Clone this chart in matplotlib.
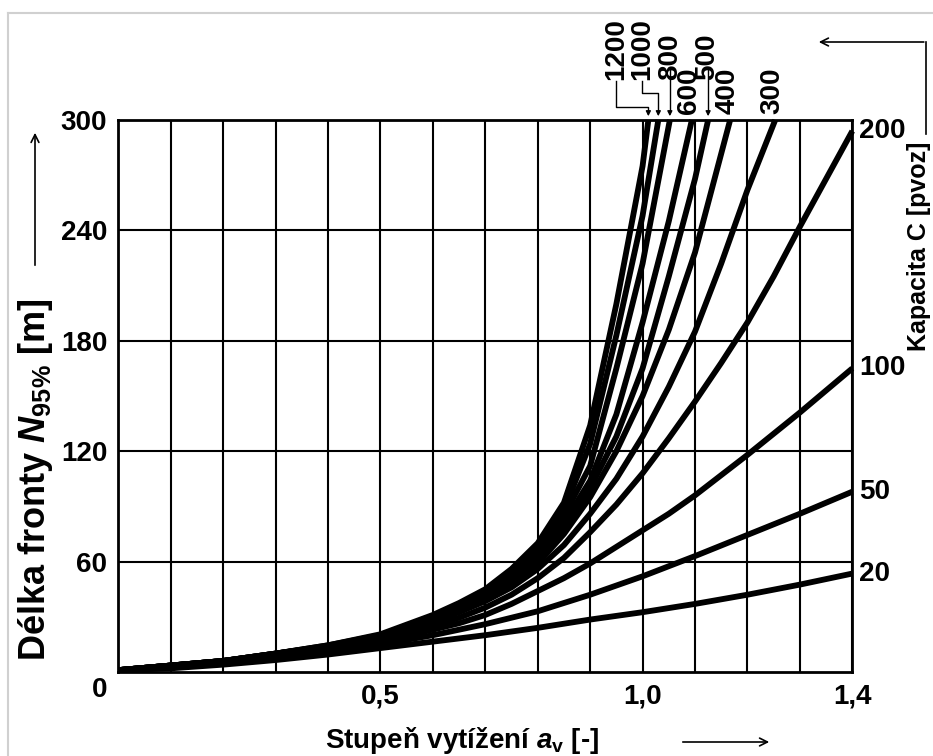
import numpy as np
import matplotlib
matplotlib.use("Agg")
import matplotlib.pyplot as plt
from matplotlib.lines import Line2D
from matplotlib.patches import FancyArrowPatch

plt.rcParams['font.family'] = ['Liberation Sans', 'DejaVu Sans']
plt.rcParams['font.weight'] = 'bold'
plt.rcParams['mathtext.fontset'] = 'custom'
plt.rcParams['mathtext.it'] = 'Liberation Sans:italic:bold'
plt.rcParams['mathtext.rm'] = 'Liberation Sans:bold'

# --- data ------------------------------------------------------------------
a_c20 = [0, 0.1, 0.2, 0.3, 0.4, 0.5, 0.6, 0.7, 0.8, 0.9, 1.0, 1.1, 1.2, 1.3, 1.4]
n_c20 = [1, 2, 4, 6.5, 9.5, 13, 16.5, 20, 24, 28.5, 32.5, 37, 42, 47.5, 53.5]
a_c50 = [0, 0.1, 0.2, 0.3, 0.4, 0.5, 0.6, 0.7, 0.8, 0.9, 1.0, 1.1, 1.2, 1.3, 1.4]
n_c50 = [1, 2.5, 4.5, 7, 10.5, 15, 20, 26, 33, 42, 52, 63, 74.5, 86, 98]
a_c100 = [0, 0.1, 0.2, 0.3, 0.4, 0.5, 0.6, 0.65, 0.7, 0.75, 0.8, 0.85, 0.9, 0.95,
          1.0, 1.05, 1.1, 1.15, 1.2, 1.25, 1.3, 1.35, 1.4]
n_c100 = [1, 3, 5, 8, 11.5, 16.5, 23, 26.5, 31, 37, 44, 51, 59, 68,
          77, 86, 96, 107, 118, 129.5, 141, 153, 165]
a_c200 = [0, 0.1, 0.2, 0.3, 0.4, 0.5, 0.6, 0.65, 0.7, 0.75, 0.8, 0.85, 0.9, 0.95,
          1.0, 1.05, 1.1, 1.15, 1.2, 1.25, 1.3, 1.35, 1.4]
n_c200 = [1, 3.5, 5.5, 8.5, 12.5, 18, 25, 29.5, 35, 42, 51, 62, 76, 91,
          108, 127, 147, 168, 190, 215, 242, 268, 294]
a_c300 = [0, 0.1, 0.2, 0.3, 0.4, 0.5, 0.6, 0.65, 0.7, 0.75, 0.8, 0.85, 0.9, 0.95,
          1.0, 1.05, 1.1, 1.15, 1.2, 1.253]
n_c300 = [1, 3.5, 6, 9.5, 13, 18.5, 27, 32.5, 38.5, 46, 56, 69, 86, 105,
          128, 155, 185, 222, 262, 300]
a_c400 = [0, 0.1, 0.2, 0.3, 0.4, 0.5, 0.6, 0.65, 0.7, 0.75, 0.8, 0.85, 0.9, 0.95,
          1.0, 1.05, 1.1, 1.167]
n_c400 = [1, 3.5, 6, 9.5, 13.5, 19, 28, 33.5, 40, 48.5, 59, 75, 95, 120,
          150, 186, 228, 300]
a_c500 = [0, 0.1, 0.2, 0.3, 0.4, 0.5, 0.6, 0.65, 0.7, 0.75, 0.8, 0.85, 0.9, 0.95,
          1.0, 1.05, 1.1, 1.125]
n_c500 = [1, 3.5, 6, 10, 14, 19.5, 28.5, 34, 41, 50, 61, 78, 100, 128,
          165, 215, 268, 300]
a_c600 = [0, 0.1, 0.2, 0.3, 0.4, 0.5, 0.6, 0.65, 0.7, 0.75, 0.8, 0.85, 0.9, 0.95,
          1.0, 1.05, 1.094]
n_c600 = [1, 3.5, 6, 10, 14, 19.5, 29, 35, 42, 51.5, 63, 81, 104, 140,
          190, 245, 300]
a_c800 = [0, 0.1, 0.2, 0.3, 0.4, 0.5, 0.6, 0.65, 0.7, 0.75, 0.8, 0.85, 0.9, 0.95,
          1.0, 1.052]
n_c800 = [1, 3.5, 6, 10, 14, 20, 30, 36, 43, 53, 65, 85, 112, 165, 222, 300]
a_c1000 = [0, 0.1, 0.2, 0.3, 0.4, 0.5, 0.6, 0.65, 0.7, 0.75, 0.8, 0.85, 0.9, 0.95,
           1.0, 1.03]
n_c1000 = [1, 3.5, 6, 10, 14.5, 20, 30.5, 36.5, 44, 54.5, 67, 88, 124, 183, 248, 300]
a_c1200 = [0, 0.1, 0.2, 0.3, 0.4, 0.5, 0.6, 0.65, 0.7, 0.75, 0.8, 0.85, 0.9, 0.95,
           1.0, 1.011]
n_c1200 = [1, 3.5, 6, 10, 14.5, 20.5, 31, 37.5, 45, 56, 70, 92, 134, 200, 275, 300]

right_labels = ['200', '100', '50', '20']
top_near = ['600', '400', '300']
top_far = ['1200', '1000', '800', '500']

W, H = 933, 756
NUM = 20  # font size of numbers
fig = plt.figure(figsize=(W / 100, H / 100), dpi=100)


def px(x, y):
    # picture pixels (from top left) -> figure fraction
    return x / W, 1 - y / H


ax = fig.add_axes([118.3 / W, 1 - 672 / H, 734 / W, 552 / H])
ax.set_xlim(0, 1.4)
ax.set_ylim(0, 300)

ax.set_xticks(np.arange(0, 1.41, 0.1), minor=True)
ax.set_yticks([60, 120, 180, 240, 300])
ax.set_xticks([0.5, 1.0, 1.4])
ax.set_xticklabels(['0,5', '1,0', '1,4'])
ax.grid(True, which='both', color='black', lw=1.5)
ax.tick_params(which='both', length=0, labelsize=NUM, pad=8)
for sp in ax.spines.values():
    sp.set_linewidth(2)
ax.set_axisbelow(True)

curves = [
    (a_c20, n_c20), (a_c50, n_c50), (a_c100, n_c100), (a_c200, n_c200),
    (a_c300, n_c300), (a_c400, n_c400), (a_c500, n_c500), (a_c600, n_c600),
    (a_c800, n_c800), (a_c1000, n_c1000), (a_c1200, n_c1200),
]
for xs, ys in curves:
    ax.plot(xs, ys, color='black', lw=4.2, solid_capstyle='butt',
            solid_joinstyle='round', clip_on=False)

# corner zero
fig.text(*px(100, 690), '0', fontsize=NUM, ha='center', va='center')

# right side labels at curve ends
for lab, ys in zip(right_labels, [n_c200, n_c100, n_c50, n_c20]):
    ax.annotate(lab, xy=(1.4, ys[-1]), xytext=(7, 0), textcoords='offset pixels',
                fontsize=NUM, ha='left', va='center', annotation_clip=False)

# top labels directly above their curves
for lab, xs in zip(top_near, [a_c600, a_c400, a_c300]):
    ax.annotate(lab, xy=(xs[-1], 300), xytext=(-3, 6), textcoords='offset pixels',
                fontsize=NUM, rotation=90, ha='center', va='bottom', annotation_clip=False)


def to_px(x, y):
    dx, dy = ax.transData.transform((x, y))
    return dx, H - dy


label_x = [616, 642, 670, 707]
elbow_y = [107, 93, None, None]
for lab, xs, lx, ey in zip(top_far, [a_c1200, a_c1000, a_c800, a_c500], label_x, elbow_y):
    tx, ty = to_px(xs[-1], 300)
    fig.text(*px(lx, 80), lab, fontsize=NUM, rotation=90, ha='center', va='bottom')
    if ey is None:
        pts = [(tx, 68), (tx, 112)]
    else:
        pts = [(lx, 81), (lx, ey), (tx, ey), (tx, 112)]
    fx = [px(p[0], p[1])[0] for p in pts]
    fy = [px(p[0], p[1])[1] for p in pts]
    fig.add_artist(Line2D(fx, fy, color='black', lw=1.0))
    fig.add_artist(FancyArrowPatch(px(tx, 110), px(tx, ty - 1), transform=fig.transFigure,
                                   arrowstyle='-|>', mutation_scale=7, color='black', lw=1.0))

# axis labels
fig.text(*px(462, 740), r'Stupeň vytížení $a_{\rm v}$ [-]', fontsize=20,
         ha='center', va='center')
fig.text(*px(36, 480), r'Délka fronty $N_{95\%}$ [m]', fontsize=26,
         rotation=90, ha='center', va='center')
fig.text(*px(919, 246), 'Kapacita C [pvoz]', fontsize=18,
         rotation=90, ha='center', va='center')

# direction arrows
arrow_kw = dict(transform=fig.transFigure, arrowstyle='->', mutation_scale=14,
                color='black', lw=1.2)
fig.add_artist(FancyArrowPatch(px(680, 742), px(772, 742), **arrow_kw))
fig.add_artist(FancyArrowPatch(px(35, 268), px(35, 130), **arrow_kw))
fig.add_artist(Line2D([px(926, 134)[0], px(926, 42)[0]], [px(926, 134)[1], px(926, 42)[1]],
                      color='black', lw=1.2))
fig.add_artist(FancyArrowPatch(px(926.6, 42), px(816, 42), **arrow_kw))

# light frame of the original picture
fig.add_artist(Line2D([px(8, 13)[0], 1], [px(8, 13)[1], px(8, 13)[1]], color='#d0d0d0', lw=1.5))
fig.add_artist(Line2D([px(8, 13)[0], px(8, 13)[0]], [px(8, 13)[1], 0], color='#d0d0d0', lw=1.5))

fig.savefig('out.png', dpi=100)
